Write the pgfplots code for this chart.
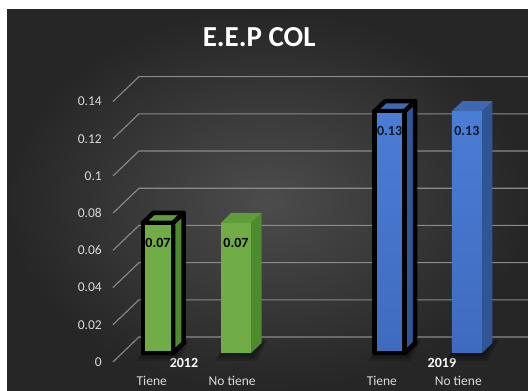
\documentclass[border=0pt]{standalone}
\usepackage{pgfplots}
\pgfplotsset{compat=1.18}
\usepackage{pgfplotstable}
\usepackage{fontspec}
\setmainfont{Carlito}

\definecolor{bgin}{HTML}{4C4C4C}
\definecolor{bgout}{HTML}{262626}
\definecolor{gridc}{HTML}{8A8A8A}
\definecolor{tickc}{HTML}{D9D9D9}
\definecolor{gfront}{HTML}{70AD47}
\definecolor{gside}{HTML}{4E8A2E}
\definecolor{gtop}{HTML}{5F9C3B}
\definecolor{bfronttop}{HTML}{4A7DD6}
\definecolor{bfrontbot}{HTML}{3F6BBE}
\definecolor{bside}{HTML}{2F5597}
\definecolor{btop}{HTML}{4068B0}
\definecolor{navytxt}{HTML}{111827}

% faces of a bar, relative to its centre: y = a*value + b
\pgfplotstableread{
x a b
0.193 0 0
0.328 0 0.0054
0.328 1 0.0054
0.193 1 0
0.193 0 0
}\sideface
\pgfplotstableread{
x a b
-0.193 1 0
-0.058 1 0.0054
0.328 1 0.0054
0.193 1 0
-0.193 1 0
}\topface
% footprint of a bar on the floor, with the direction in which its shadow spreads
\pgfplotstableread{
x y sx sy
-0.193 0 -1 -1
0.193 0 1 -1
0.328 0.0054 1 1
-0.058 0.0054 -1 1
}\footprint
% one gridline: front edge, then along the back wall
\pgfplotstableread{
x y
-0.577 -0.0048
-0.244 0.0086
4.75 0.0086
}\gridpath

\pgfplotsset{
  gside/.style={fill=gside, draw=none},
  gtop/.style={fill=gtop, draw=none},
  gfront/.style={fill=gfront, draw=none},
  bside/.style={fill=bside, draw=none},
  btop/.style={fill=btop, draw=none},
  bfront/.style={top color=bfronttop, bottom color=bfrontbot, draw=none},
  tiene/.style={draw=black, line width=4.5pt, line join=round, line cap=round},
  plain/.style={},
  shadow/.style={fill=black, draw=none, fill opacity=0.16},
}

% #1 centre, #2 value, #3 colour set (g/b), #4 outline, #5 label colour
\newcommand\threedbar[5]{%
  \addplot[shadow] table[x expr=#1+\thisrow{x}+\thisrow{sx}*0.075, y expr=\thisrow{y}+\thisrow{sy}*0.0030-0.0012] \footprint;
  \addplot[shadow] table[x expr=#1+\thisrow{x}+\thisrow{sx}*0.05, y expr=\thisrow{y}+\thisrow{sy}*0.0020-0.0010] \footprint;
  \addplot[shadow] table[x expr=#1+\thisrow{x}+\thisrow{sx}*0.025, y expr=\thisrow{y}+\thisrow{sy}*0.0010-0.0008] \footprint;
  \addplot[#3side, #4] table[x expr=#1+\thisrow{x}, y expr=\thisrow{a}*#2+\thisrow{b}] \sideface;
  \addplot[#3top, #4] table[x expr=#1+\thisrow{x}, y expr=\thisrow{a}*#2+\thisrow{b}] \topface;
  \addplot[ybar, bar width=0.386, bar shift=0pt, #3front, #4,
    nodes near coords,
    every node near coord/.style={anchor=center, yshift=-20pt, text=#5,
      font=\bfseries\fontsize{14}{16}\selectfont,
      /pgf/number format/fixed, /pgf/number format/precision=2,
      /pgf/number format/assume math mode=true}]
    coordinates {(#1,#2)};
}

\begin{document}
\begin{tikzpicture}
\useasboundingbox (-7pt,0pt) rectangle (521pt,391pt);
\fill[white] (-7pt,0pt) rectangle (521pt,391pt);
\begin{axis}[
  at={(0pt,0pt)}, anchor=south west,
  scale only axis, width=521pt, height=381pt,
  xmin=-1.9359, xmax=4.7436, ymin=-0.02043, ymax=0.18441,
  clip=false,
  axis line style={draw=none},
  tick style={draw=none},
  axis background/.style={inner color=bgin, outer color=bgout},
  title={E.E.P COL},
  title style={at={(0.484,0.913)}, anchor=center, text=white,
    font=\bfseries\fontsize{29}{32}\selectfont},
  ytick={0,0.02,0.04,0.06,0.08,0.1,0.12,0.14},
  scaled y ticks=false,
  yticklabel style={anchor=east, inner sep=0pt, xshift=95pt, yshift=-9pt,
    text=tickc, font=\fontsize{13.5}{16}\selectfont,
    /pgf/number format/fixed, /pgf/number format/precision=2,
    /pgf/number format/assume math mode=true},
  xtick={-0.08,0.95,2.87,3.85},
  xticklabels={Tiene, No tiene, Tiene, No tiene},
  xticklabel style={anchor=base, inner sep=0pt, yshift=5pt, text=tickc,
    font=\fontsize{13.5}{16}\selectfont},
  extra x ticks={0.333,3.64},
  extra x tick labels={2012,2019},
  extra x tick style={xticklabel style={yshift=18pt, text=white,
    font=\bfseries\fontsize{14}{16}\selectfont}},
]
% gridlines at each tick value
\pgfplotsinvokeforeach{0,0.02,0.04,0.06,0.08,0.1,0.12,0.14}{
  \addplot[gridc, line width=1.1pt] table[x=x, y expr=\thisrow{y}+#1] \gridpath;
}
% 2012
\threedbar{0}{0.07}{g}{tiene}{black}
\threedbar{1}{0.07}{g}{plain}{black}
% 2019
\threedbar{2.97}{0.13}{b}{tiene}{navytxt}
\threedbar{3.96}{0.13}{b}{plain}{navytxt}
\end{axis}
\end{tikzpicture}
\end{document}
